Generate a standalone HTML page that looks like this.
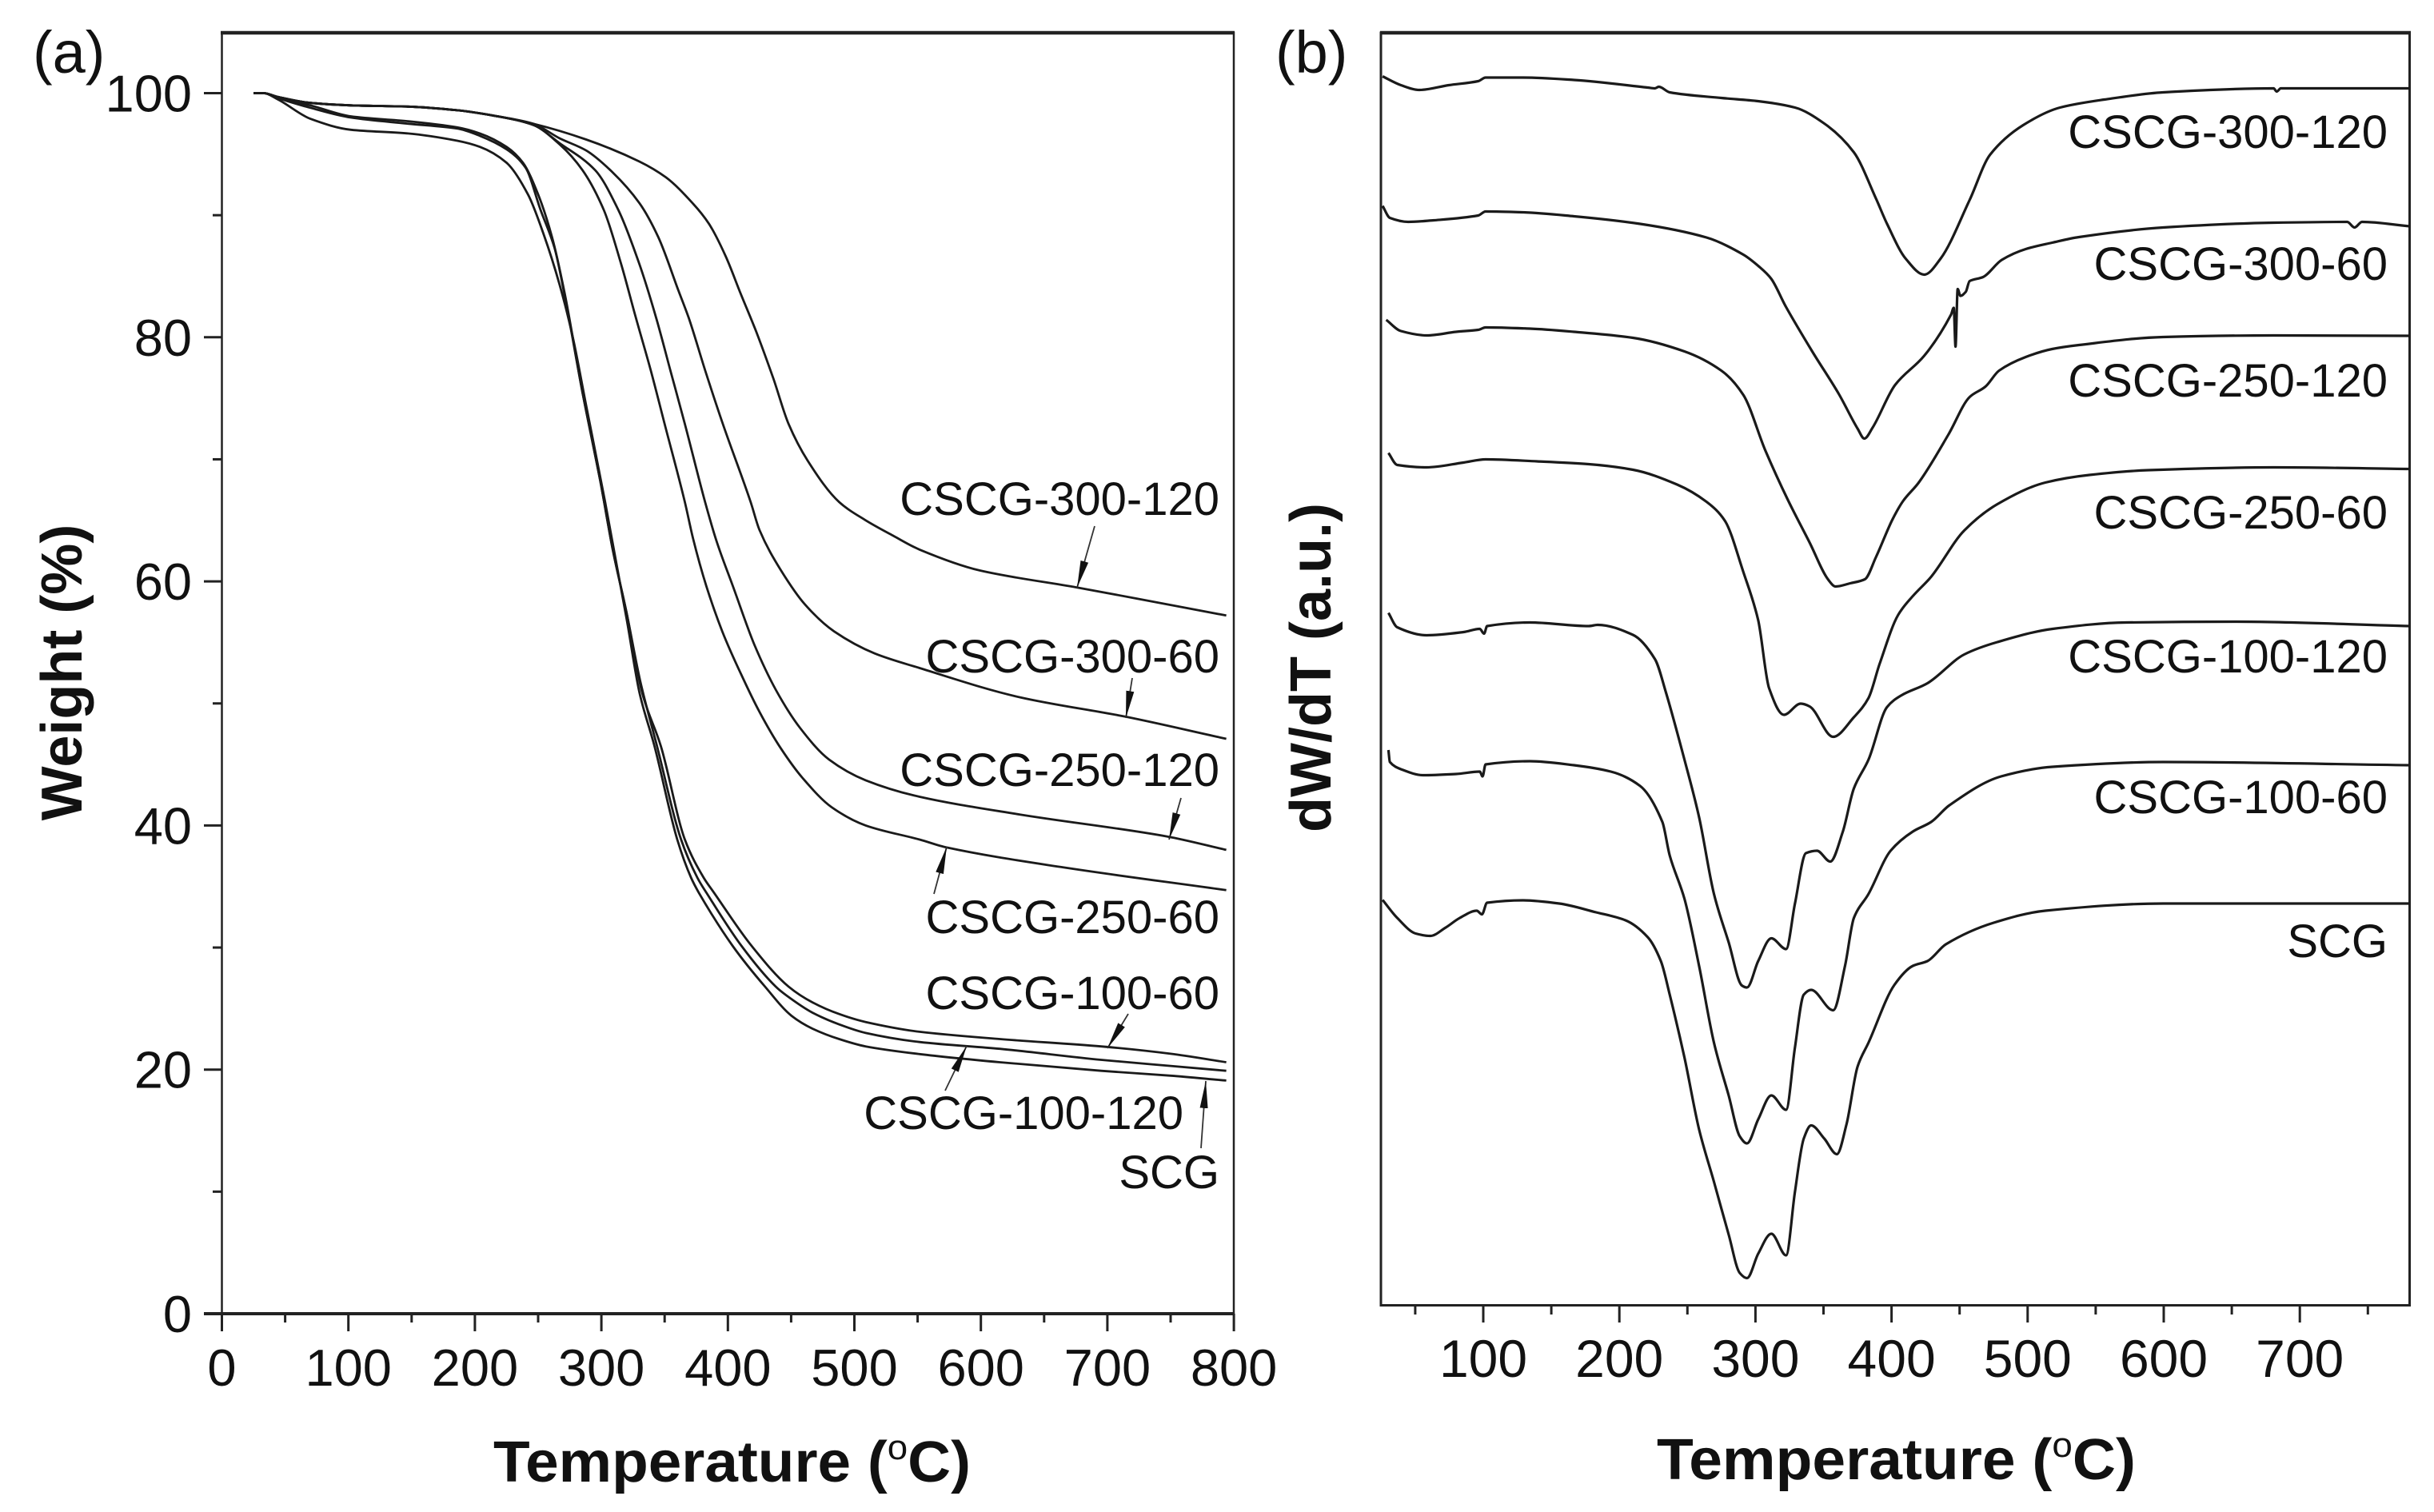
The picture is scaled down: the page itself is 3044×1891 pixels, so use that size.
<!DOCTYPE html>
<html lang="en">
<head>
<meta charset="utf-8">
<title>TGA and DTG curves of SCG and CSCG samples</title>
<style>
  html, body { margin: 0; padding: 0; background: #fff; }
  svg { display: block; }
  text { font-family: "Liberation Sans", sans-serif; fill: #111; }
  .lbl { font-size: 58px; text-anchor: end; }
  .title { font-size: 72px; font-weight: bold; }
  .tag { font-size: 74px; }
  .arrow { stroke: #333; stroke-width: 1.8; fill: none; marker-end: url(#arrow-head); }
</style>
</head>
<body>
<svg id="chart" xmlns="http://www.w3.org/2000/svg" width="3044" height="1891" viewBox="0 0 3044 1891">
  <defs>
    <marker id="arrow-head" markerUnits="userSpaceOnUse" markerWidth="36" markerHeight="20" refX="34" refY="9" orient="auto">
      <path d="M0,4 L34,9 L0,14 Z" fill="#111"></path>
    </marker>
  </defs>
  <rect width="3044" height="1891" fill="#fff"></rect>

  <g id="panel-a">
    <text class="tag" x="41" y="91">(a)</text>
    <rect x="277.5" y="41" width="1265.5" height="1602" fill="none" stroke="#222" stroke-width="2.5"></rect>
    <line x1="276" y1="41" x2="1544" y2="41" stroke="#222" stroke-width="4.5"></line>
    <line x1="255" y1="1643" x2="1544" y2="1643" stroke="#222" stroke-width="4"></line>
    <text class="title" transform="translate(102,841) rotate(-90)" text-anchor="middle">Weight (%)</text>
    <text class="title" x="617" y="1853" textLength="597" lengthAdjust="spacingAndGlyphs">Temperature (<tspan dy="-28" font-size="44" font-weight="normal">o</tspan><tspan dy="28">C)</tspan></text>
    <g id="a-ticks"></g>
    <g id="a-lines"></g>
    <text class="lbl" x="1525" y="644">CSCG-300-120</text>
    <text class="lbl" x="1525" y="841">CSCG-300-60</text>
    <text class="lbl" x="1525" y="983">CSCG-250-120</text>
    <text class="lbl" x="1525" y="1167">CSCG-250-60</text>
    <text class="lbl" x="1525" y="1262">CSCG-100-60</text>
    <text class="lbl" x="1480" y="1412">CSCG-100-120</text>
    <text class="lbl" x="1525" y="1486">SCG</text>
    <line class="arrow" x1="1369" y1="658" x2="1347" y2="735"></line>
    <line class="arrow" x1="1416" y1="848" x2="1408" y2="898"></line>
    <line class="arrow" x1="1477" y1="998" x2="1462" y2="1050"></line>
    <line class="arrow" x1="1168" y1="1118" x2="1184" y2="1059"></line>
    <line class="arrow" x1="1411" y1="1268" x2="1385" y2="1311"></line>
    <line class="arrow" x1="1182" y1="1364" x2="1209" y2="1308"></line>
    <line class="arrow" x1="1502" y1="1436" x2="1508" y2="1352"></line>
  </g>

  <g id="panel-b">
    <text class="tag" x="1595" y="91">(b)</text>
    <rect x="1727" y="41" width="1286.5" height="1591.5" fill="none" stroke="#222" stroke-width="3"></rect>
    <line x1="1726" y1="41" x2="3015" y2="41" stroke="#222" stroke-width="4.5"></line>
    <text class="title" transform="translate(1664,835) rotate(-90)" text-anchor="middle">dW/dT (a.u.)</text>
    <text class="title" x="2072" y="1850" textLength="599" lengthAdjust="spacingAndGlyphs">Temperature (<tspan dy="-28" font-size="44" font-weight="normal">o</tspan><tspan dy="28">C)</tspan></text>
    <g id="b-ticks"></g>
    <g id="b-lines"></g>
    <text class="lbl" x="2986" y="185">CSCG-300-120</text>
    <text class="lbl" x="2986" y="350">CSCG-300-60</text>
    <text class="lbl" x="2986" y="496">CSCG-250-120</text>
    <text class="lbl" x="2986" y="661">CSCG-250-60</text>
    <text class="lbl" x="2986" y="841">CSCG-100-120</text>
    <text class="lbl" x="2986" y="1017">CSCG-100-60</text>
    <text class="lbl" x="2986" y="1197">SCG</text>
  </g>
</svg>

<script>
// ---------- Panel (a): weight (%) vs temperature ----------
const aYMajorTicks = [0, 20, 40, 60, 80, 100];
const aYMinorTicks = [10, 30, 50, 70, 90];
const aXMajorTicks = [0, 100, 200, 300, 400, 500, 600, 700, 800];
const aXMinorTicks = [50, 150, 250, 350, 450, 550, 650, 750];

const aT300120 = [25,33,44,70,102,147,186,218,246,288,330,351,372,385,398,410,423,436,448,463,488,509,530.5,551.6,599,676,794];
const aW300120 = [100,100,99.7,99.2,99,98.9,98.6,98.1,97.5,96.2,94.4,93.1,91,89.3,86.7,83.6,80.3,76.6,72.9,69.9,66.5,65,63.75,62.6,60.9,59.5,57.2];

const aT30060 = [25,33,44,70,102,147,186,218,246,267,288,309,330,345,361,369,382,396,418,425,442,461,484,516,551.6,631,715,794];
const aW30060 = [100,100,99.7,99.2,99,98.9,98.6,98.1,97.5,96.3,95.3,93.5,91,88.2,83.8,81.6,77.3,72.9,66.5,64.2,60.9,58.1,55.9,54.1,52.9,50.5,48.9,47.1];

const aT250120 = [25,33,44,70,102,147,186,218,246,267,295,313.5,330,343,354.5,366,382,391,404,421,438,457,480,509,551.6,631,747,794];
const aW250120 = [100,100,99.7,99.2,99,98.9,98.6,98.1,97.4,95.9,93.7,90.4,86,81.7,77.3,72.9,66.5,63.3,59.6,54.8,51.1,48,45.4,43.7,42.35,40.9,39.1,38];

const aT25060 = [25,33,44,70,102,147,186,218,246,267,285,302,315.6,327,339,350,366,372.5,383,395.6,410.4,425,442,459,482,509,551.6,573,663,794];
const aW25060 = [100,100,99.7,99.2,99,98.9,98.6,98.1,97.4,95.8,93.7,90.4,86,81.7,77.3,72.9,66.5,63.5,59.6,55.9,52.4,49.3,46.3,43.9,41.5,40,38.85,38.2,36.6,34.7];

const aT10060 = [25,33,44,70,102,147,186,204,225,238,250,261,271,285,299,309,320,332.4,347,366,381,389,419,448,467,488,509,551.5,615,695,750,794];
const aW10060 = [100,100,99.6,99,98.1,97.7,97.2,96.7,95.6,94.3,91.7,88.2,83.6,75.5,68.3,62.6,57.4,50.8,46.5,38.85,35.7,34.5,30.1,26.8,25.5,24.55,23.9,23.1,22.5,21.9,21.3,20.6];

const aT100120 = [25,33,44,70,102,147,186,204,225,240,252,263,271,285,299,309,320,330.8,344,363,376,383,411,437.8,446,467,488,509,551.5,615,695,750,794];
const aW100120 = [100,100,99.6,98.8,98,97.5,97.1,96.5,95.4,93.9,90.4,87.3,83.4,75.5,68.3,62.6,57.4,51.8,46.5,38.85,35.7,34.5,30.1,26.8,26.1,24.66,23.7,23,22.26,21.7,20.8,20.3,19.9];

const aTSCG = [25,33,44,70,102,147,186,204,225,242,254.5,267,277.6,288,303,320,330.3,342,360,371,377,404,429.3,450.4,467,488,509,551.5,615,695,750,794];
const aWSCG = [100,100,99.5,97.9,97,96.7,96.1,95.6,94.3,91.7,88.4,84.3,79.9,74.4,66.5,56.9,50.8,46.5,38.85,35.7,34.5,30.1,26.8,24.4,23.35,22.5,21.9,21.27,20.6,19.9,19.5,19.1];

// ---------- Panel (b): dW/dT (arbitrary units) vs temperature ----------
const bXMajorTicks = [100, 200, 300, 400, 500, 600, 700];
const bXMinorTicks = [50, 150, 250, 350, 450, 550, 650, 750];

const bT300120 = [26,39.5,53,74.7,96.3,101.7,128.8,166.6,220.8,226,229,237,274.9,301.9,329,350.6,372.3,389,396.7,410.4,424,436,457.4,472.4,496.7,523.8,556.3,599.6,680.7,683,686,780.8];
const bV300120 = [153.7,152.6,152,152.6,153.1,153.55,153.55,153.25,152.3,152.2,152.4,151.7,151,150.6,149.8,147.8,144.2,138.25,135.25,130.9,128.9,130.9,138.25,143.9,147.6,149.8,150.8,151.7,152.2,151.8,152.2,152.2];

const bT30060 = [26,31.4,44.9,63.8,96.3,101.7,128.8,166.6,215.3,264,291.1,302.7,311.5,322.3,341.9,361.5,375.2,380,386,402.6,424,443.7,445.7,447,448.6,450.6,454.5,457.4,467.2,481,498.6,518,537.7,599.6,680.7,734.8,740.2,745.7,780.8];
const bV30060 = [137.5,136,135.5,135.7,136.3,136.8,136.7,136.2,135.25,133.55,131.4,129.9,128.4,124.9,119.25,113.9,109.6,108.4,109.75,115.1,118.75,123.9,124.75,119.9,127.1,126.25,126.75,128.1,128.6,130.75,132.1,132.9,133.6,134.8,135.4,135.5,134.8,135.5,134.95];

const bT250120 = [28.7,39.5,58.4,80,96.3,101.7,134.2,166.6,210,247.8,274.9,291.1,307.3,323.6,339.8,353.3,358.8,369.6,380.4,388.5,400.6,408.5,420,441.8,457.4,469,479,498.6,518,537.7,599.6,680.7,780.8];
const bV250120 = [123.25,121.85,121.3,121.75,122,122.3,122.15,121.75,121,119.3,116.9,113.85,106.9,100.8,95.4,90.8,89.9,90.3,90.8,93.55,98.25,100.6,102.9,108.9,113.6,114.9,116.9,118.6,119.6,120.1,121.1,121.3,121.25];

const bT25060 = [30.3,36.8,58.4,85.5,101.7,139.6,177.5,210,242.4,264,277.6,291.1,302,310,320.9,333.3,339.8,357.1,372.3,383.1,391.2,404.7,415.6,429,453.4,477.8,513,545.4,588.7,680.7,780.8];
const bV25060 = [106.6,105.1,104.8,105.4,105.8,105.55,105.2,104.5,102.65,100.5,98.1,91.7,85.7,77.2,73.85,75.25,74.9,71.1,73.55,75.95,80.2,86.3,88.7,91.1,96.9,100.2,102.9,103.85,104.45,104.8,104.6];

const bT100120 = [30.3,36.8,58.4,85.5,97.4,100.6,102.8,134.2,177.5,184,210,226.2,234.3,247.8,258.6,269.5,280.3,290,293.8,302,311.7,322.5,329,337.1,345.2,355,364.2,372.3,383.1,396.6,407.4,426.4,453.4,477.8,518.4,572.5,653.7,780.8];
const bV100120 = [86.6,84.8,83.8,84.2,84.6,84,84.95,85.4,84.95,85.1,83.85,80.8,76.6,68.25,61.05,51.45,45.4,40,39.75,43.05,45.9,44.55,50.25,56.55,56.85,55.5,59.25,64.65,68.25,74.8,76.3,77.8,81.4,82.95,84.6,85.4,85.5,84.95];

const bT10060 = [30.3,31.4,39.5,55.7,80,97.4,99.5,101.7,134.2,166.6,193.7,215.3,231.6,237,247.8,258.6,269.5,280.3,288.4,293.8,302,311.7,322.5,329,335.5,340.9,357.1,365.8,372.3,383.1,399.3,415.6,429.1,442.6,480.5,518.4,599.6,780.8];
const bV10060 = [69.45,67.95,67.05,66.3,66.45,66.75,66.15,67.65,68.05,67.55,66.75,64.95,60.45,56.25,50.85,42.45,32.85,26.25,21.15,20.25,23.25,26.25,24.45,32.25,38.85,39.45,36.9,42.45,48.45,51.45,56.85,59.25,60.45,62.55,66.15,67.35,67.95,67.55];

const bTSCG = [26,36.8,50.3,61.1,72,82.8,95.2,99,102.8,128.8,155.8,182.9,204.5,220.8,230.5,237,247.8,258.6,269.5,280.3,288.4,293.8,302,311.7,322.5,329,335.5,340.9,350.6,359.8,366.9,375,383.1,402,415.6,426.4,439.9,475.1,513,599.6,780.8];
const bVSCG = [50.7,48.45,46.5,46.2,47.2,48.45,49.35,48.9,50.35,50.65,50.25,49.15,48.15,46.05,43.05,38.85,31,22,15.45,8.85,4.05,3.4,6.45,8.95,6.25,14.2,20.85,22.5,20.85,18.9,22.65,29.85,32.85,40.05,42.45,43.05,45.15,47.85,49.35,50.25,50.25];

const seriesA = [
  ['cscg-300-120', aT300120, aW300120],
  ['cscg-300-60', aT30060, aW30060],
  ['cscg-250-120', aT250120, aW250120],
  ['cscg-250-60', aT25060, aW25060],
  ['cscg-100-60', aT10060, aW10060],
  ['cscg-100-120', aT100120, aW100120],
  ['scg', aTSCG, aWSCG]
];
const seriesB = [
  ['cscg-300-120', bT300120, bV300120],
  ['cscg-300-60', bT30060, bV30060],
  ['cscg-250-120', bT250120, bV250120],
  ['cscg-250-60', bT25060, bV25060],
  ['cscg-100-120', bT100120, bV100120],
  ['cscg-100-60', bT10060, bV10060],
  ['scg', bTSCG, bVSCG]
];

// ---------- Axis functions ----------
function xA(t) { return 277.5 + t * 1.582; }
function yA(w) { return 1643 - w * 15.265; }
function xB(t) { return 1855 + (t - 100) * 1.702; }
function yB(v) { return 1632.5 - v * 10; }

const NS = 'http://www.w3.org/2000/svg';
function make(tag, parent, props, text) {
  const el = document.createElementNS(NS, tag);
  for (const k in props) el.setAttribute(k, props[k]);
  if (text !== undefined) el.textContent = text;
  parent.appendChild(el);
  return el;
}

// Monotone cubic path so sharp peaks do not overshoot.
function curvePath(px, py) {
  const n = px.length, s = [], m = [];
  for (let i = 0; i < n - 1; i++) s.push((py[i + 1] - py[i]) / (px[i + 1] - px[i]));
  m.push(s[0]);
  for (let i = 1; i < n - 1; i++) {
    m.push(s[i - 1] * s[i] <= 0 ? 0 : 2 * s[i - 1] * s[i] / (s[i - 1] + s[i]));
  }
  m.push(s[n - 2]);
  let d = 'M' + px[0].toFixed(1) + ',' + py[0].toFixed(1);
  for (let i = 0; i < n - 1; i++) {
    const h = (px[i + 1] - px[i]) / 3;
    d += 'C' + (px[i] + h).toFixed(1) + ',' + (py[i] + m[i] * h).toFixed(1) + ' ' +
         (px[i + 1] - h).toFixed(1) + ',' + (py[i + 1] - m[i + 1] * h).toFixed(1) + ' ' +
         px[i + 1].toFixed(1) + ',' + py[i + 1].toFixed(1);
  }
  return d;
}

// ---------- Panel (a) ticks ----------
const aTicks = document.getElementById('a-ticks');
aYMajorTicks.forEach(function (v) {
  const tick = make('line', aTicks, { x1: 255, x2: 277.5, y1: yA(v), y2: yA(v), stroke: '#222', 'stroke-width': 3 });
  
  
  const label = make('text', aTicks, { x: 240, y: yA(v) + 23, 'text-anchor': 'end', 'font-size': 65 }, String(v));
  
  
});
aYMinorTicks.forEach(function (v) {
  const tick = make('line', aTicks, { x1: 266, x2: 277.5, y1: yA(v), y2: yA(v), stroke: '#222', 'stroke-width': 3 });
  
  
});
aXMajorTicks.forEach(function (v) {
  const tick = make('line', aTicks, { x1: xA(v), x2: xA(v), y1: 1643, y2: 1665, stroke: '#222', 'stroke-width': 3 });
  
  
  const label = make('text', aTicks, { x: xA(v), y: 1733, 'text-anchor': 'middle', 'font-size': 65 }, String(v));
  
  
});
aXMinorTicks.forEach(function (v) {
  const tick = make('line', aTicks, { x1: xA(v), x2: xA(v), y1: 1643, y2: 1654, stroke: '#222', 'stroke-width': 3 });
  
  
});

// ---------- Panel (b) ticks ----------
const bTicks = document.getElementById('b-ticks');
bXMajorTicks.forEach(function (v) {
  const tick = make('line', bTicks, { x1: xB(v), x2: xB(v), y1: 1632.5, y2: 1654, stroke: '#222', 'stroke-width': 3 });
  
  
  const label = make('text', bTicks, { x: xB(v), y: 1722, 'text-anchor': 'middle', 'font-size': 66 }, String(v));
  
  
});
bXMinorTicks.forEach(function (v) {
  const tick = make('line', bTicks, { x1: xB(v), x2: xB(v), y1: 1632.5, y2: 1644, stroke: '#222', 'stroke-width': 3 });
  
  
});

// ---------- Series ----------
const aLines = document.getElementById('a-lines');
seriesA.forEach(function (s) {
  const path = make('path', aLines, { d: curvePath(s[1].map(xA), s[2].map(yA)), fill: 'none', stroke: '#1a1a1a', 'stroke-width': 2.8, 'stroke-linejoin': 'round' });
  
  
});
const bLines = document.getElementById('b-lines');
seriesB.forEach(function (s) {
  const path = make('path', bLines, { d: curvePath(s[1].map(xB), s[2].map(yB)), fill: 'none', stroke: '#1a1a1a', 'stroke-width': 3.2, 'stroke-linejoin': 'round' });
  
  
});
</script>
</body>
</html>
